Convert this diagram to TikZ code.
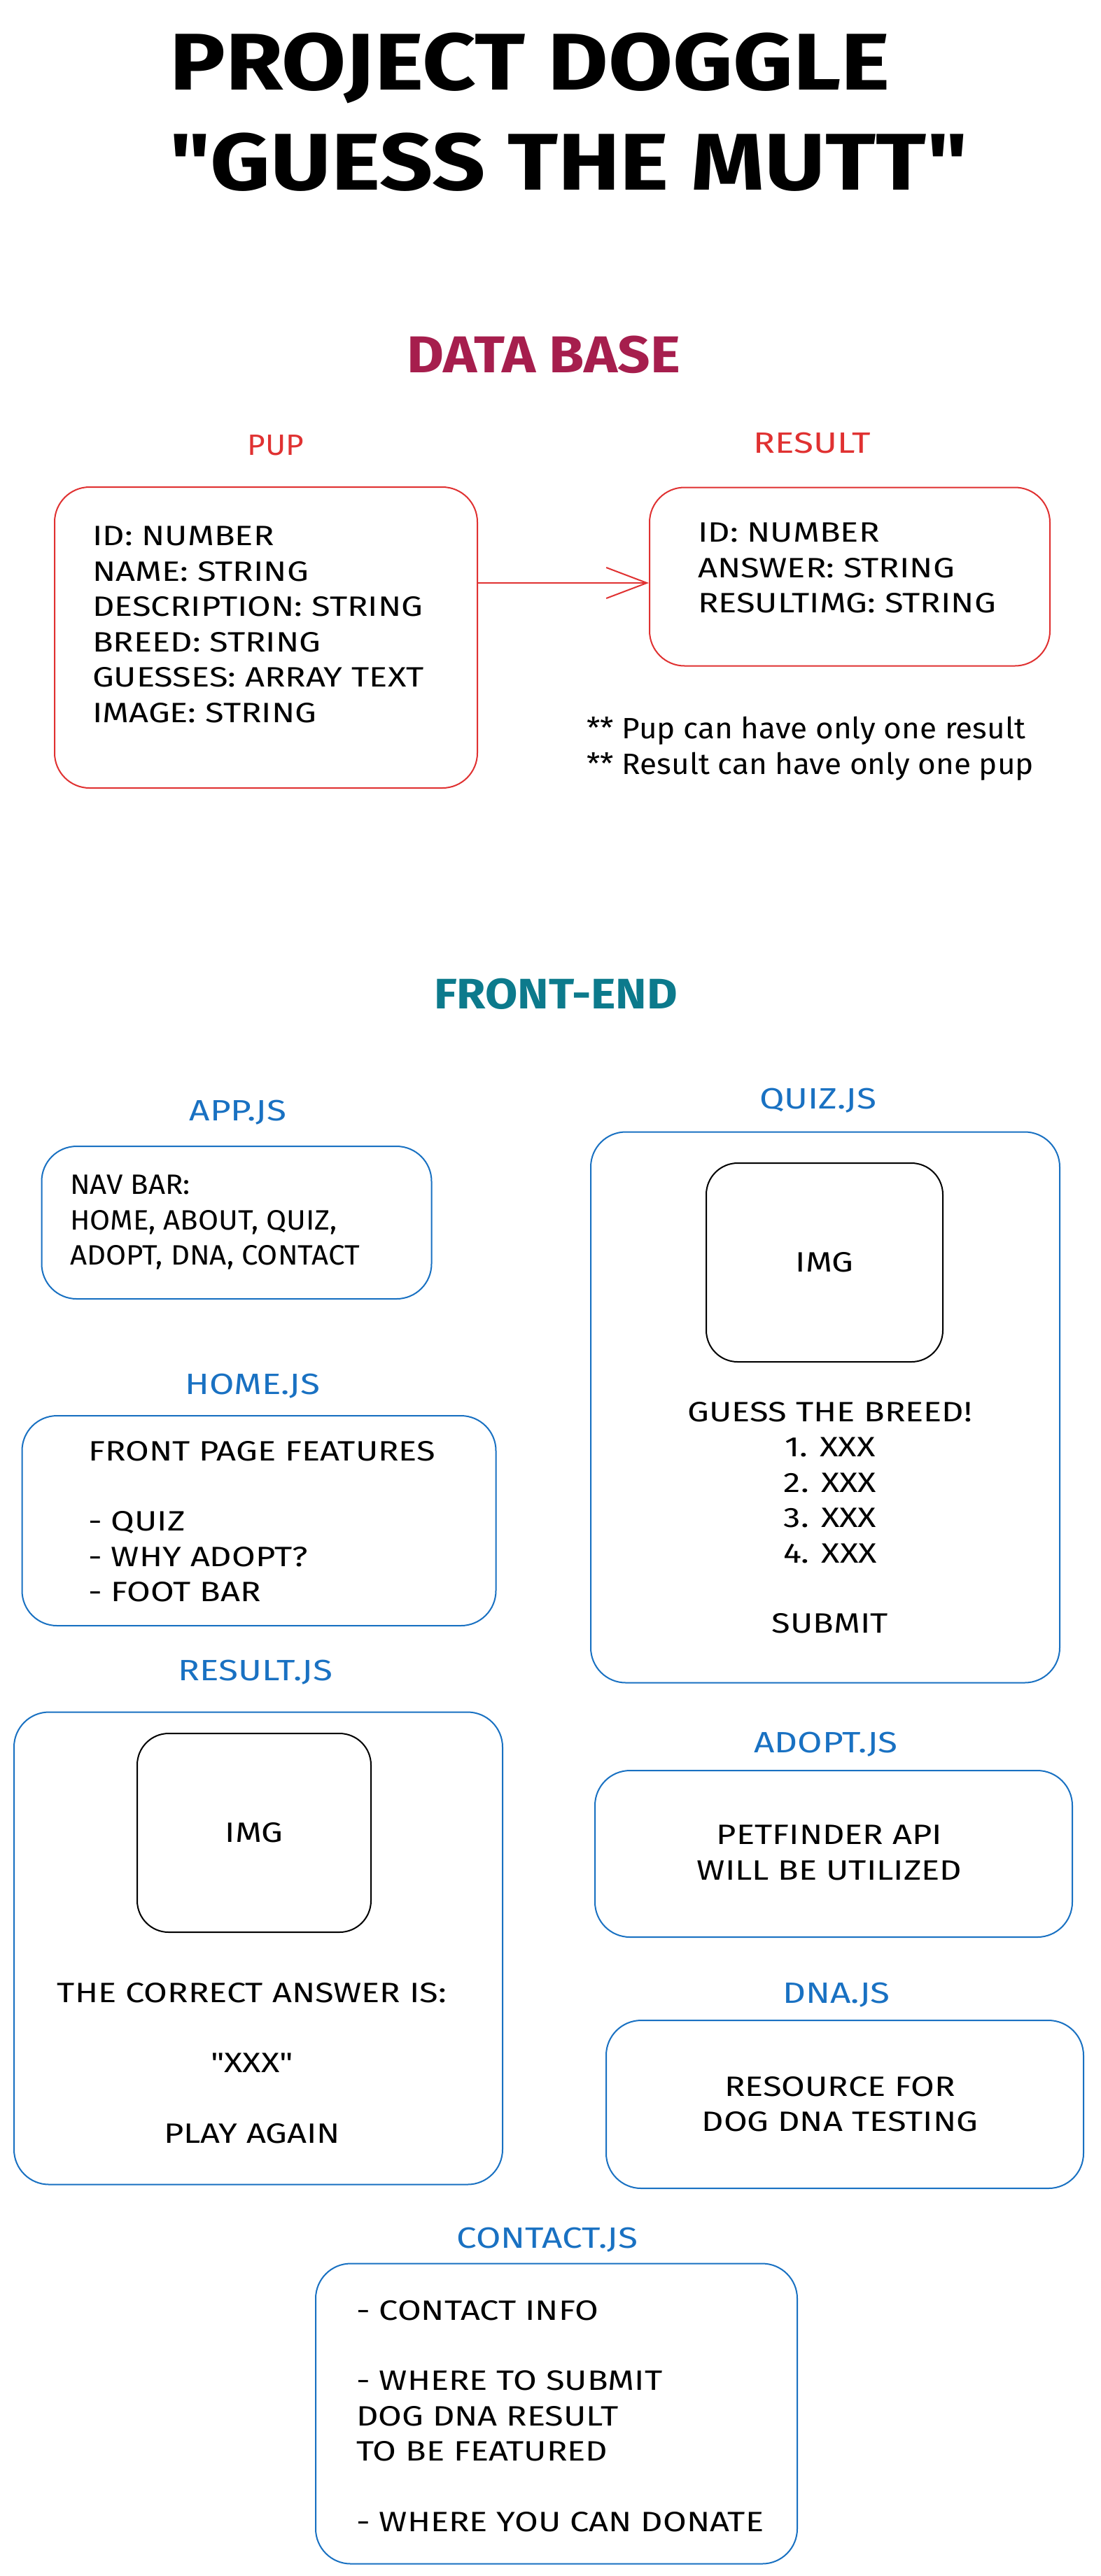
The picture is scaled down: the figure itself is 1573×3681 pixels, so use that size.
\documentclass[tikz,border=0pt]{standalone}
\usepackage{fontspec}
\setmainfont{Fira Sans}
\newfontfamily\titlefont{Fira Sans}[FakeStretch=1.16]
\newfontfamily\headfont{Fira Sans}[FakeStretch=1.1]
\newfontfamily\widefont{Fira Sans}[FakeStretch=1.22]
\newfontfamily\midfont{Fira Sans}[FakeStretch=1.05]
\usetikzlibrary{arrows.meta,positioning}
\definecolor{dbred}{HTML}{E03131}
\definecolor{dbtitle}{HTML}{A61E4D}
\definecolor{feteal}{HTML}{0C7A8C}
\definecolor{feblue}{HTML}{1971C2}

\begin{document}
\begin{tikzpicture}[
  x=1pt, y=-1pt,
  box/.style={rectangle, draw, rounded corners=50pt, line width=2pt, inner sep=0pt},
  dbbox/.style={box, draw=dbred},
  febox/.style={box, draw=feblue},
  imgbox/.style={box, draw=black, rounded corners=45pt, font=\widefont\fontsize{40}{50}\selectfont},
  lbl/.style={inner sep=0pt, font=\widefont\fontsize{42}{50}\selectfont},
  txt/.style={inner sep=0pt, font=\widefont\fontsize{40}{50.5}\selectfont},
  arrow/.style={-{Straight Barb[length=58pt, width=44pt]}, line width=2pt, draw=dbred}
]
  \fill[white] (0,0) rectangle (1573,3681);

  \node[inner sep=0pt, anchor=north west, align=left, font=\titlefont\fontsize{115}{143}\bfseries] (title) at (242,47)
    {PROJECT DOGGLE\\"GUESS THE MUTT"};

  % data base
  \node[inner sep=0pt, text=dbtitle, font=\headfont\fontsize{74}{80}\bfseries] (dbhead) at (777,507) {DATA BASE};
  \node[lbl, text=dbred, font=\midfont\fontsize{42}{50}\selectfont] (puplbl) at (394,636) {PUP};
  \node[lbl, text=dbred] (reslbl) at (1160,633) {RESULT};
  \node[dbbox, minimum width=604pt, minimum height=430pt] (pup) at (380,911) {};
  \node[dbbox, minimum width=572pt, minimum height=255pt] (result) at (1214,824) {};
  \node[txt, anchor=north west, align=left] (puptxt) at (132,752)
    {ID: NUMBER\\NAME: STRING\\DESCRIPTION: STRING\\BREED: STRING\\GUESSES: ARRAY TEXT\\IMAGE: STRING};
  \node[txt, anchor=north west, align=left] (restxt) at (997,747)
    {ID: NUMBER\\ANSWER: STRING\\RESULTIMG: STRING};
  \node[txt, anchor=north west, align=left, font=\midfont\fontsize{42}{51}\selectfont] (notes) at (838,1024)
    {** Pup can have only one result\\** Result can have only one pup};
  \draw[arrow] (pup.east |- 0,833) -- (result.west |- 0,833);

  % front-end
  \node[inner sep=0pt, text=feteal, font=\headfont\fontsize{61}{70}\bfseries] (fehead) at (794,1420) {FRONT-END};

  \node[lbl, text=feblue] (applbl) at (340,1590) {APP.JS};
  \node[febox, minimum width=557pt, minimum height=218pt] (app) at (338,1747) {};
  \node[txt, anchor=north west, align=left, font=\midfont\fontsize{40}{50.5}\selectfont] (apptxt) at (100,1679)
    {NAV BAR:\\HOME, ABOUT, QUIZ,\\ADOPT, DNA, CONTACT};

  \node[lbl, text=feblue] (quizlbl) at (1169,1573) {QUIZ.JS};
  \node[febox, minimum width=670pt, minimum height=787pt] (quiz) at (1179,2011) {};
  \node[imgbox, minimum width=338pt, minimum height=284pt] (quizimg) at (1178,1804) {IMG};
  \node[txt, anchor=north, align=center] (quiztxt) at (1186,2003)
    {GUESS THE BREED!\\1. XXX\\2. XXX\\3. XXX\\4. XXX\\[50pt]SUBMIT};

  \node[lbl, text=feblue] (homelbl) at (361,1981) {HOME.JS};
  \node[febox, minimum width=677pt, minimum height=300pt] (home) at (370,2173) {};
  \node[txt, anchor=north west, align=left] (hometxt) at (126,2059)
    {FRONT PAGE FEATURES\\[50pt]- QUIZ\\- WHY ADOPT?\\- FOOT BAR};

  \node[lbl, text=feblue] (rjslbl) at (365,2390) {RESULT.JS};
  \node[febox, minimum width=698pt, minimum height=675pt] (rjs) at (369,2784) {};
  \node[imgbox, minimum width=334pt, minimum height=284pt] (rjsimg) at (363,2619) {IMG};
  \node[txt, anchor=north, align=center] (rjstxt) at (360,2833)
    {THE CORRECT ANSWER IS:\\[50pt]"XXX"\\[50pt]PLAY AGAIN};

  \node[lbl, text=feblue] (adoptlbl) at (1180,2493) {ADOPT.JS};
  \node[febox, minimum width=682pt, minimum height=238pt] (adopt) at (1191,2649) {};
  \node[txt, anchor=north, align=center] (adopttxt) at (1185,2608)
    {PETFINDER API\\WILL BE UTILIZED};

  \node[lbl, text=feblue] (dnalbl) at (1195,2851) {DNA.JS};
  \node[febox, minimum width=682pt, minimum height=240pt] (dna) at (1207,3007) {};
  \node[txt, anchor=north, align=center] (dnatxt) at (1200,2967)
    {RESOURCE FOR\\DOG DNA TESTING};

  \node[lbl, text=feblue] (contactlbl) at (782,3201) {CONTACT.JS};
  \node[febox, minimum width=688pt, minimum height=429pt] (contact) at (795,3449) {};
  \node[txt, anchor=north west, align=left] (contacttxt) at (509,3287)
    {- CONTACT INFO\\[50pt]- WHERE TO SUBMIT\\DOG DNA RESULT\\TO BE FEATURED\\[50pt]- WHERE YOU CAN DONATE};
\end{tikzpicture}
\end{document}
